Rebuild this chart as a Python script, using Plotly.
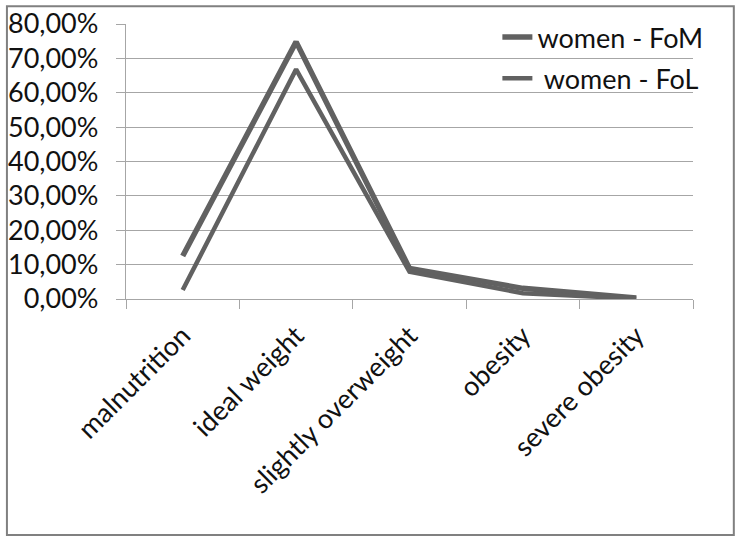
import plotly.graph_objects as go

# Weight categories and share of women in each group
categories = ["malnutrition", "ideal weight", "slightly overweight", "obesity", "severe obesity"]
women_fom = [0.125, 0.748, 0.089, 0.031, 0.003]
women_fol = [0.026, 0.668, 0.079, 0.017, 0.001]
y_ticks = [0, 0.1, 0.2, 0.3, 0.4, 0.5, 0.6, 0.7, 0.8]
y_tick_labels = ["0,00%", "10,00%", "20,00%", "30,00%", "40,00%",
                 "50,00%", "60,00%", "70,00%", "80,00%"]

LINE = "#616161"
GRID = "#a6a6a6"
FONT = "Lato"
SIZE = 27

fig = go.Figure()
fig.add_trace(go.Scatter(x=categories, y=women_fom, mode="lines", name="women - FoM",
                         legendgroup="fom", line=dict(color=LINE, width=5.5)))
fig.add_trace(go.Scatter(x=categories, y=women_fol, mode="lines", name=" women - FoL",
                         legendgroup="fol", line=dict(color=LINE, width=4.5)))

fig.update_layout(
    width=736, height=537,
    margin=dict(l=126, r=43, t=24, b=238, autoexpand=False),
    paper_bgcolor="white", plot_bgcolor="white",
    font=dict(family=FONT, size=SIZE, color="#111111"),
    showlegend=True,
    legend=dict(x=0.655, y=1.04, xanchor="left", yanchor="top",
                bgcolor="rgba(0,0,0,0)", font=dict(size=SIZE),
                tracegroupgap=3, itemwidth=30),
    xaxis=dict(
        type="category", range=[-0.5, 4.5], automargin=False,
        showgrid=False, showline=True, linecolor=GRID, linewidth=1.3,
        ticks="outside", ticklen=9, tickcolor=GRID, tickwidth=1.3,
        tickson="boundaries", tickangle=-45, ticklabelstandoff=9,
        tickfont=dict(size=SIZE),
    ),
    yaxis=dict(
        range=[0, 0.8], tickvals=y_ticks, ticktext=y_tick_labels, automargin=False,
        showgrid=True, gridcolor=GRID, gridwidth=1.3,
        showline=True, linecolor=GRID, linewidth=1.3,
        ticks="outside", ticklen=9, tickcolor=GRID, tickwidth=1.3,
        zeroline=False, ticklabelstandoff=12,
        tickfont=dict(size=SIZE),
    ),
    shapes=[dict(type="rect", xref="paper", yref="paper",
                 x0=-0.21, x1=1.072, y0=-0.858, y1=1.065,
                 line=dict(color="#808080", width=2), layer="above")],
)

fig.write_html("out.html")
